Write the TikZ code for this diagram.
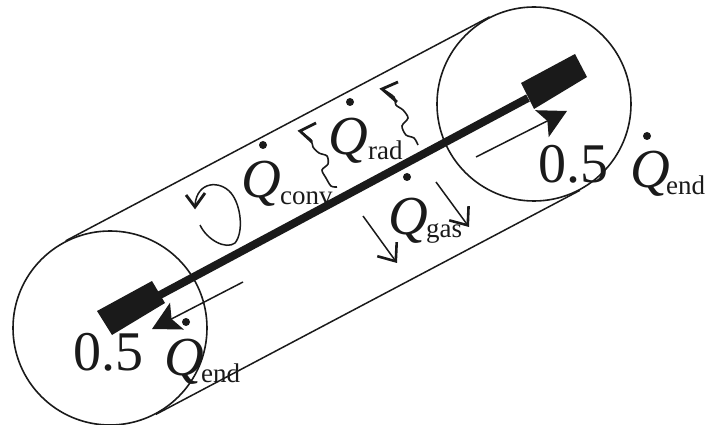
\documentclass[tikz,border=0pt]{standalone}
\usepackage{fontspec}
\setmainfont{Liberation Serif}
\usetikzlibrary{arrows.meta}
\definecolor{ink}{HTML}{1A1A1A}
\tikzset{
  tube/.style={circle,draw=ink,line width=1.6pt,minimum size=194pt,inner sep=0pt},
  wall/.style={draw=ink,line width=1.5pt},
  thin arrow/.style={draw=ink,line width=1.5pt,-{Straight Barb[length=15pt,width=24pt,line width=2.6pt]}},
  solid arrow/.style={draw=ink,line width=1.5pt,-{Stealth[length=28pt,width=30pt,inset=6pt]}},
  wave/.style={draw=ink,line width=1.6pt},
  barb/.style={draw=ink,line width=2.8pt},
  bigQ/.style={anchor=base west,inner sep=0pt,text=ink,font=\fontsize{55}{55}\selectfont\itshape},
  bigN/.style={anchor=base west,inner sep=0pt,text=ink,font=\fontsize{56}{56}\selectfont},
  sub/.style={anchor=base west,inner sep=0pt,text=ink,font=\fontsize{27}{27}\selectfont},
  qdot/.style={circle,fill=ink,inner sep=0pt,minimum size=8pt},
  block/.style={fill=ink},
  rod/.style={draw=ink,line width=8pt}
}
\begin{document}
\begin{tikzpicture}[x=1pt,y=-1pt]
\useasboundingbox (0,0) rectangle (705,425);
% cylinder
\node[tube] (L) at (110,328) {};
\node[tube] (R) at (534,104) {};
\draw[wall] (L.117.8) -- (R.117.8);
\draw[wall] (L.-62.2) -- (R.-62.2);
% labels
\node[bigQ] (Qc) at (241,198) {Q};
\node[qdot] (dc) at (263,145) {};
\node[sub] (sc) at (280,205) {conv};
\node[bigQ] (Qr) at (328,155) {Q};
\node[qdot] (dr) at (350,102) {};
\node[sub] (sr) at (368,160) {rad};
\node[bigQ] (Qg) at (388,235) {Q};
\node[qdot] (dg) at (407,177) {};
\node[sub] (sg) at (426,238) {gas};
\node[bigN] (nr) at (538,183) {0.5};
\node[bigQ] (Qe) at (630,188) {Q};
\node[qdot] (de) at (647,136) {};
\node[sub] (se) at (666,195) {end};
\node[bigN] (nl) at (73,370) {0.5};
\node[bigQ] (Ql) at (164,375) {Q};
\node[qdot] (dl) at (186,322) {};
\node[sub] (sl) at (201,382) {end};
% heater rod
\coordinate (rl) at (158,296);
\coordinate (rr) at (528,98);
\draw[rod] (rl) -- (rr);
\fill[block] (97,311) -- (152,281) -- (165,303) -- (112,335) -- cycle;
\fill[block] (521,83) -- (575,54) -- (587,77) -- (534,109) -- cycle;
% end arrows
\coordinate (a1) at (476,157); \coordinate (a2) at (567,111);
\coordinate (b1) at (243,282); \coordinate (b2) at (152,329);
\draw[solid arrow] (a1) -- (a2);
\draw[solid arrow] (b1) -- (b2);
% gas arrows
\coordinate (g1) at (363,216); \coordinate (g2) at (397,263);
\coordinate (h1) at (436,182); \coordinate (h2) at (469,227);
\draw[thin arrow] (g1) -- (g2);
\draw[thin arrow] (h1) -- (h2);
% convection loop
\coordinate (c1) at (200,225);
\draw[wall] (c1) .. controls (207,240) and (226,250) .. (235,243)
  .. controls (244,232) and (241,205) .. (231,193)
  .. controls (220,180) and (197,181) .. (195,205);
\draw[barb] (186,195) -- (195,207) -- (205,193);
% radiation
\draw[wave] plot[smooth] coordinates {(337,187) (331,186) (326,178) (322,170) (328,164) (327,156) (319,153) (313,147) (311,140) (302,133)};
\draw[barb] (316,123) -- (300,131) -- (312,142);
\draw[wave] plot[smooth] coordinates {(418,145) (414,138) (406,135) (402,126) (408,118) (403,110) (396,105) (394,97) (384,90)};
\draw[barb] (398,82) -- (382,89) -- (397,102);
\end{tikzpicture}
\end{document}
